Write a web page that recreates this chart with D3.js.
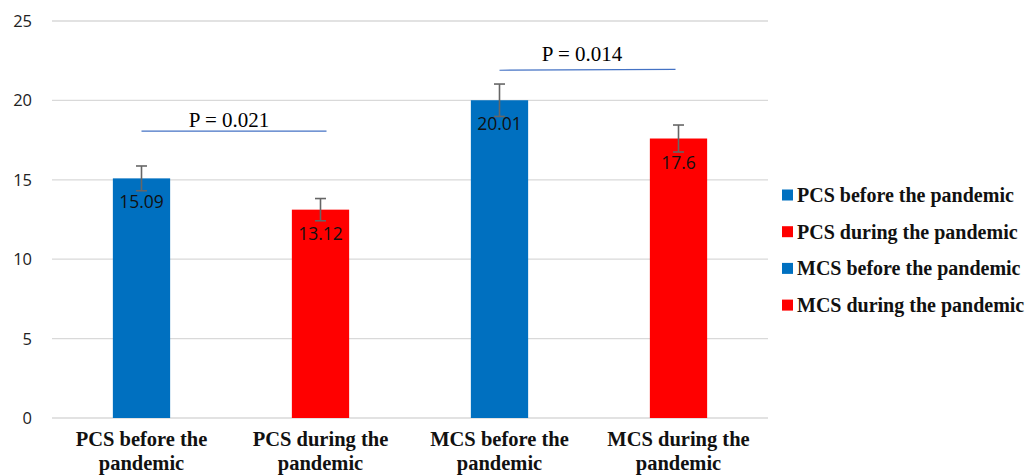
<!DOCTYPE html>
<html><head><meta charset="utf-8">
<script src="https://cdn.jsdelivr.net/npm/d3@7/dist/d3.min.js"></script>
<style>body{margin:0;background:#fff}</style></head>
<body><svg id="c" width="1035" height="476"></svg>
<script>
const categories = ["PCS before the pandemic","PCS during the pandemic","MCS before the pandemic","MCS during the pandemic"];
const values = [15.09, 13.12, 20.01, 17.6];
const errors = [0.78, 0.7, 1.02, 0.85];
const colors = ["#0070C0","#FF0000","#0070C0","#FF0000"];
const yTicks = [0,5,10,15,20,25];
const pLabels = ["P = 0.021","P = 0.014"];
const pLines = [ {x1:0, x2:1, y1:18.06, y2:18.06, xo2:6, ty:18.3, tx:229}, {x1:2, x2:3, y1:21.9, y2:21.95, xo2:-3, ty:22.48, tx:582} ];

const svg = d3.select("#c");
const m = {l:52, r:768, t:21, b:418};
const x = d3.scaleBand().domain(d3.range(categories.length)).range([m.l, m.r]).paddingInner(0.68).paddingOuter(0.34);
const y = d3.scaleLinear().domain([0,25]).range([m.b, m.t]);

// grid
svg.append("g").selectAll("line").data(yTicks).join("line")
  .attr("x1", m.l).attr("x2", m.r).attr("y1", d=>y(d)).attr("y2", d=>y(d))
  .attr("stroke", "#d9d9d9").attr("stroke-width", 1.3);
svg.append("g").selectAll("text").data(yTicks).join("text")
  .attr("x", 32).attr("y", d=>y(d)+6).attr("text-anchor","end")
  .attr("font-family","'Open Sans', 'Liberation Sans', sans-serif").attr("font-size",16.5).attr("fill","#222")
  .text(d=>d);

// bars
svg.append("g").selectAll("rect").data(values).join("rect")
  .attr("x",(d,i)=>x(i)).attr("width",x.bandwidth())
  .attr("y",d=>y(d)).attr("height",d=>y(0)-y(d)).attr("fill",(d,i)=>colors[i]);

// error bars
const eg = svg.append("g").attr("stroke","#666").attr("stroke-width",1.6);
values.forEach((v,i)=>{
  const cx = x(i)+x.bandwidth()/2;
  eg.append("line").attr("x1",cx).attr("x2",cx).attr("y1",y(v+errors[i])).attr("y2",y(v-errors[i]));
  [v+errors[i], v-errors[i]].forEach(e=>eg.append("line").attr("x1",cx-5.5).attr("x2",cx+5.5).attr("y1",y(e)).attr("y2",y(e)));
});

// value labels
svg.append("g").selectAll("text").data(values).join("text")
  .attr("x",(d,i)=>x(i)+x.bandwidth()/2).attr("y",d=>y(d)+30)
  .attr("text-anchor","middle").attr("font-family","'Open Sans', 'Liberation Sans', sans-serif")
  .attr("font-size",17.5).attr("fill","#111").text(d=>d);

// p-value lines
pLines.forEach((p,i)=>{
  const xa = x(p.x1)+x.bandwidth()/2, xb = x(p.x2)+x.bandwidth()/2 + p.xo2;
  svg.append("line").attr("x1",xa).attr("x2",xb).attr("y1",y(p.y1)).attr("y2",y(p.y2))
    .attr("stroke","#4472C4").attr("stroke-width",1.2);
  svg.append("text").attr("x",p.tx).attr("y",y(p.ty))
    .attr("text-anchor","middle").attr("font-family","'Liberation Serif', 'DejaVu Serif', serif")
    .attr("font-size",21).attr("fill","#000").text(pLabels[i]);
});

// x labels
categories.forEach((c,i)=>{
  const cx = x(i)+x.bandwidth()/2;
  const words = c.split(" ");
  const l1 = words.slice(0,3).join(" "), l2 = words.slice(3).join(" ");
  const t = svg.append("text").attr("text-anchor","middle")
    .attr("font-family","'Liberation Serif', serif").attr("font-weight","bold").attr("font-size",20.5).attr("fill","#111");
  t.append("tspan").attr("x",cx).attr("y",446).text(l1);
  t.append("tspan").attr("x",cx).attr("y",470).text(l2);
});

// legend
const lg = svg.append("g");
categories.forEach((c,i)=>{
  const yy = 195 + i*36.7;
  lg.append("rect").attr("x",782).attr("y",yy-5.5).attr("width",11).attr("height",11).attr("fill",colors[i]);
  lg.append("text").attr("x",797).attr("y",yy+7).attr("font-family","'Liberation Serif', serif")
    .attr("font-weight","bold").attr("font-size",20).attr("fill","#111").text(c);
});
</script></body></html>
